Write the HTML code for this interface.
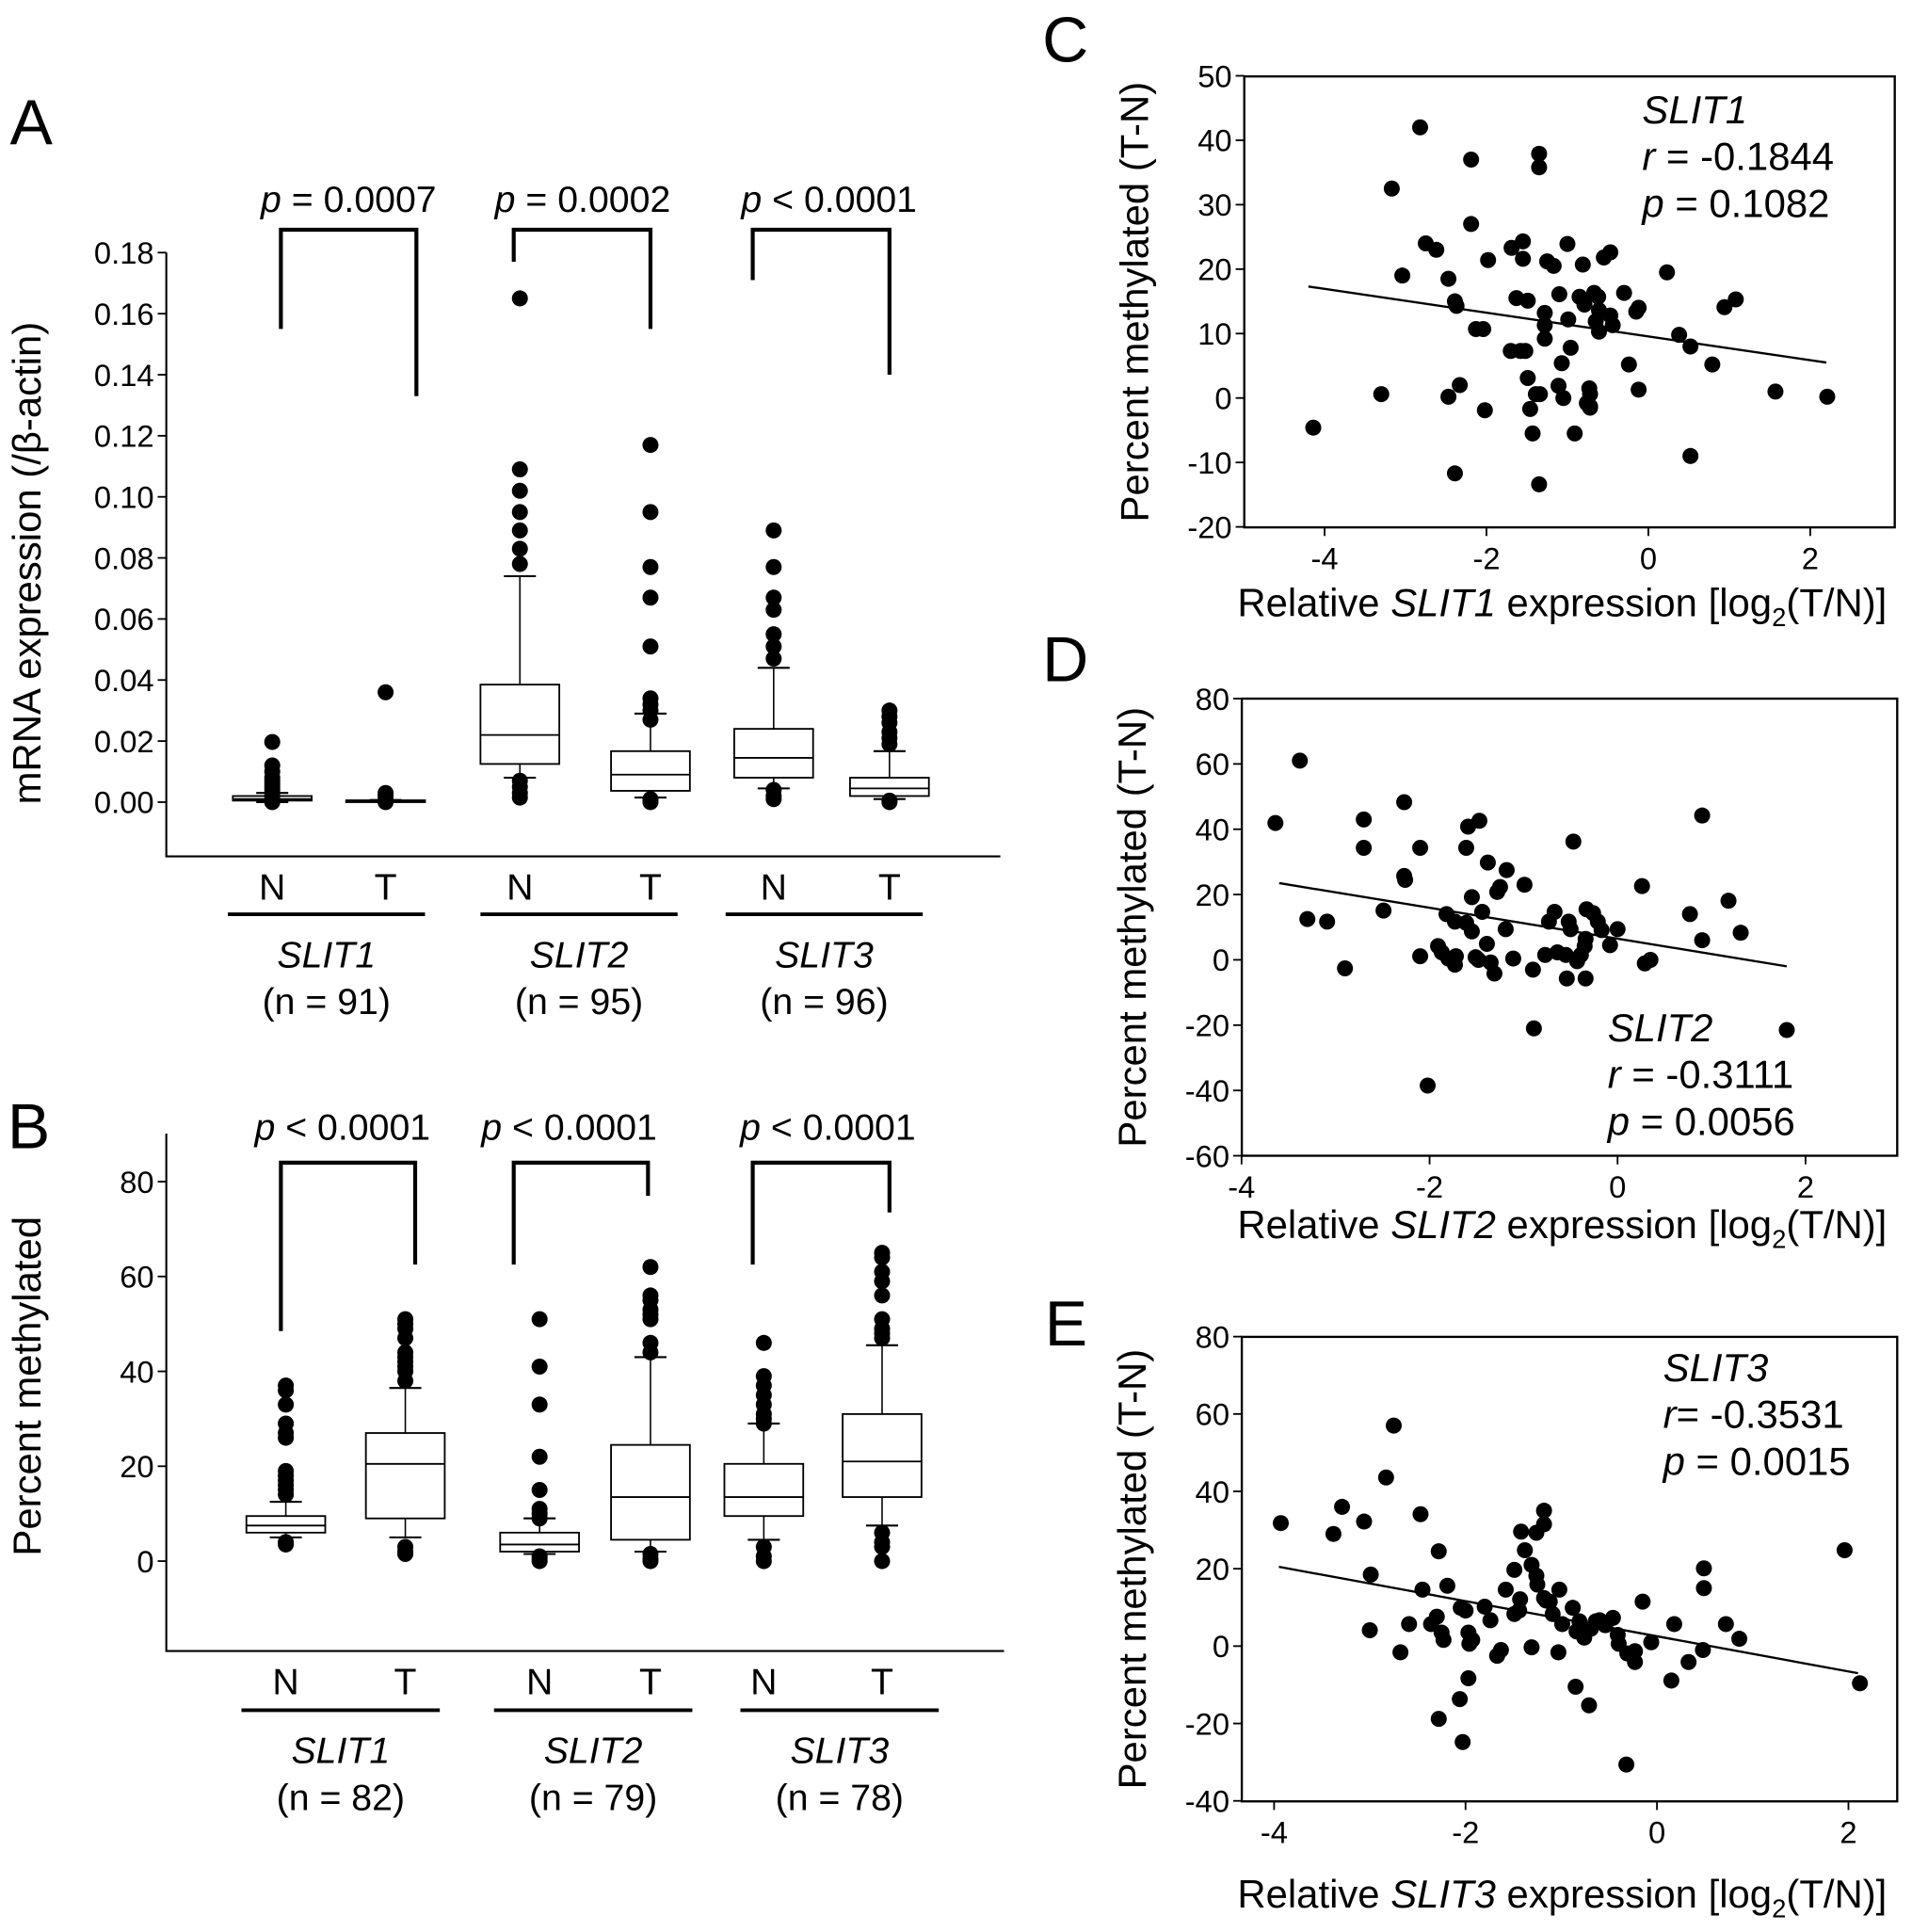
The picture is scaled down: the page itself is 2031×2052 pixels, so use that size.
<!DOCTYPE html>
<html><head><meta charset="utf-8">
<style>
html,body{margin:0;padding:0;background:#fff;}
svg{display:block;}
text{font-family:"Liberation Sans",Arial,sans-serif;fill:#000;}
.tk{font-size:25px;}
.lab{font-size:30px;}
.yl{font-size:32px;}
.it{font-style:italic;}
.big{font-size:52px;}
</style></head>
<body>
<svg id="fig" width="2031" height="2052" viewBox="0 0 1552 1568" xmlns="http://www.w3.org/2000/svg">
<g id="static">
<text class="big" x="8" y="117">A</text>
<text class="big" x="6" y="932">B</text>
<text class="big" x="846" y="50">C</text>
<text class="big" x="846" y="553">D</text>
<text class="big" x="848" y="1092">E</text>
</g>
</svg>
<script>
// ---------- Panel A data ----------
const aGroups = ['N','T','N','T','N','T'];
const aGenes = ['SLIT1','SLIT2','SLIT3'];
const aN = ['(n = 91)','(n = 95)','(n = 96)'];
const aPvals = ['= 0.0007','= 0.0002','< 0.0001'];
const aTicks = [0,0.02,0.04,0.06,0.08,0.10,0.12,0.14,0.16,0.18];
const aTickLabels = ['0.00','0.02','0.04','0.06','0.08','0.10','0.12','0.14','0.16','0.18'];
// [whiskerLow, q1, median, q3, whiskerHigh]
const aBoxes = [
 [0.0, 0.0005, 0.001, 0.002, 0.003],
 [0.0001, 0.0002, 0.0004, 0.0006, 0.0007],
 [0.008, 0.0125, 0.022, 0.0385, 0.074],
 [0.0015, 0.0037, 0.009, 0.0167, 0.029],
 [0.0045, 0.008, 0.0145, 0.024, 0.044],
 [0.001, 0.002, 0.0045, 0.008, 0.0167]
];
const aOutliers = [
 [0.0197,0.012,0.010,0.008,0.007,0.006,0.005,0.004,0.002,0.001,0],
 [0.036,0.003,0.002,0.001,0],
 [0.165,0.109,0.102,0.095,0.089,0.083,0.078,0.007,0.005,0.003,0.0015],
 [0.117,0.095,0.077,0.067,0.051,0.034,0.032,0.030,0.027,0.001,0.0005,0],
 [0.089,0.077,0.067,0.063,0.055,0.051,0.047,0.004,0.002,0.001],
 [0.030,0.028,0.026,0.023,0.021,0.019,0.0005,0]
];
const aBracketEnds = [[0.155,0.133],[0.177,0.155],[0.171,0.140]];
const aBracketTop = 0.1875;

// ---------- Panel B data ----------
const bGroups = ['N','T','N','T','N','T'];
const bGenes = ['SLIT1','SLIT2','SLIT3'];
const bN = ['(n = 82)','(n = 79)','(n = 78)'];
const bPvals = ['< 0.0001','< 0.0001','< 0.0001'];
const bTicks = [0,20,40,60,80];
const bTickLabels = ['0','20','40','60','80'];
const bBoxes = [
 [5, 6, 7.5, 9.5, 12.5],
 [5, 9, 20.5, 27, 36.5],
 [1.5, 2, 3.5, 6, 9],
 [2, 4.5, 13.5, 24.5, 43],
 [4.5, 9.5, 13.5, 20.5, 29],
 [7.5, 13.5, 21, 31, 45.5]
];
const bOutliers = [
 [37,36,33,29,27,26,19,18,17,16,15,14,4,3.5],
 [51,50,49,47,44,43,42,41,40,38,3,2,1.5],
 [51,41,33,22,15,11,10,9,1,0.5,0],
 [62,56,55,53,52,51,46,44,1.5,0.5,0],
 [46,39,37,35,33,31,30,29,3,1,0],
 [65,64,61,59,56,51,49,48,47,6,4,3,0]
];
const bBracketEnds = [[48.5,62.5],[62.5,77],[62.5,73.5]];
const bBracketTop = 84;

// ---------- Scatter C ----------
const cX = [-4.14,-2.82,-3.17,-3.04,-2.75,-2.62,-3.3,-2.19,-2.19,-2.47,-2.39,-2.37,-2.47,-2.33,-2.39,-2.13,-2.04,-2.02,-1.98,-1.69,-1.7,-1.58,-1.63,-1.55,-1.55,-1.49,-1.52,-1.49,-1.46,-1.43,-1.35,-1.35,-1.39,-1.35,-1.34,-1.28,-1.28,-1.28,-1.25,-1.17,-1.1,-1.07,-1.11,-1.05,-1.0,-0.99,-0.96,-0.91,-0.81,-0.85,-0.79,-0.76,-0.73,-0.72,-0.72,-0.72,-0.67,-0.62,-0.61,-0.65,-0.61,-0.55,-0.47,-0.47,-0.44,-0.3,-0.24,-0.15,-0.12,-0.12,0.23,0.38,0.52,0.52,0.79,0.94,1.08,1.57,2.21];
const cY = [-4.6,42,32.5,19,24,23,0.6,37,27,18.5,15,14.3,0.2,2,-11.7,10.7,10.7,-1.9,21.4,23.3,7.3,7.3,15.5,21.6,24.3,15.1,7.3,3.1,-1.7,-5.5,37.9,35.8,0.6,-13.4,0.6,13.2,11.3,9.2,21.2,20.5,16.1,5.4,1.9,0,23.9,12.2,7.8,-5.5,20.7,15.7,14.5,-0.8,1.5,0.6,-1.3,-1.5,16.3,15.7,13.6,11.9,10.3,21.8,22.6,12.8,11.3,16.3,5.2,13.4,14,1.3,19.5,9.8,8,-9,5.2,14.1,15.3,1,0.2];
const cFit = [[-4.2,17.3],[2.2,5.5]];
const cXTicks = [-4,-2,0,2];
const cYTicks = [-20,-10,0,10,20,30,40,50];
const cStats = ['SLIT1','r','= -0.1844','p','= 0.1082'];

// ---------- Scatter D ----------
const dX = [-3.64,-3.38,-3.3,-3.09,-2.9,-2.7,-2.7,-2.49,-2.27,-2.27,-2.26,-2.1,-2.1,-2.02,-1.91,-1.87,-1.82,-1.8,-1.72,-1.73,-1.73,-1.61,-1.59,-1.61,-1.55,-1.55,-1.48,-1.47,-1.51,-1.44,-1.39,-1.38,-1.35,-1.31,-1.28,-1.25,-1.18,-1.19,-1.11,-0.99,-0.9,-0.89,-0.77,-0.73,-0.67,-0.64,-0.55,-0.54,-0.52,-0.5,-0.47,-0.43,-0.39,-0.35,-0.34,-0.34,-0.33,-0.26,-0.21,-0.17,-0.08,0,0.26,0.29,0.35,0.77,0.9,0.9,1.18,1.31,1.8];
const dY = [41.9,61,12.5,11.7,-2.6,43,34.3,15.1,48.3,25.7,24.5,34.3,1.1,-38.5,4.2,2.3,14,0.4,1.1,11.7,-1.5,11.3,40.8,34.3,19.2,8.7,0,42.6,0.8,14.7,4.9,29.8,-0.8,-4.2,20.8,22.3,27.5,9.4,0.4,23,-3,-21,1.5,11.7,14.7,2.3,1.5,-5.7,11.7,9.4,36.2,-0.4,1.5,4.2,-5.7,6.4,15.5,14.3,11.7,9.1,4.5,9.4,22.6,-1.1,0,14,6,44.2,18.1,8.3,-21.5];
const dFit = [[-3.6,23.5],[1.8,-2]];
const dXTicks = [-4,-2,0,2];
const dYTicks = [-60,-40,-20,0,20,40,60,80];
const dStats = ['SLIT2','r','= -0.3111','p','= 0.0056'];

// ---------- Scatter E ----------
const eX = [-3.93,-3.38,-3.29,-3.06,-2.99,-3.0,-2.83,-2.75,-2.68,-2.59,-2.47,-2.45,-2.36,-2.3,-2.28,-2.28,-2.25,-2.23,-2.19,-2.06,-2.05,-2.03,-2.0,-1.97,-1.97,-1.96,-1.93,-1.8,-1.74,-1.67,-1.63,-1.58,-1.49,-1.44,-1.43,-1.49,-1.42,-1.38,-1.31,-1.26,-1.25,-1.26,-1.31,-1.18,-1.16,-1.12,-1.18,-1.18,-1.09,-1.03,-1.02,-0.99,-0.88,-0.84,-0.85,-0.81,-0.76,-0.71,-0.69,-0.64,-0.6,-0.54,-0.46,-0.41,-0.4,-0.32,-0.31,-0.23,-0.23,-0.15,-0.06,0.15,0.18,0.33,0.48,0.49,0.49,0.72,0.86,1.96,2.12];
const eY = [31.8,29,36,32.2,18.5,4.1,43.6,57,-1.6,5.7,34.1,14.6,5.7,7.6,24.5,-18.8,3.5,1.6,15.6,-13.7,9.9,-24.8,9.2,-8.3,3.5,0.6,1.6,10.2,6.7,-2.5,-1,14.6,8.3,9.2,12.1,19.7,29.6,24.8,21,18.2,15.9,29.3,-0.3,12.4,11.8,11.5,35,31.5,8.3,-1.6,14.6,5.7,9.9,3.8,-10.5,6.4,2.2,-15.3,4.5,6.4,6.7,5.4,7.3,2.9,0.6,-30.6,-1.9,-4.1,-1.3,11.5,1,-8.9,5.7,-4.1,-1,15,20.1,5.7,1.9,24.8,-9.6];
const eFit = [[-3.95,20.5],[2.1,-7]];
const eXTicks = [-4,-2,0,2];
const eYTicks = [-40,-20,0,20,40,60,80];
const eStats = ['SLIT3','r','= -0.3531','p','= 0.0015'];

const NS='http://www.w3.org/2000/svg';
const svg=document.getElementById('fig');
function mk(tag,attrs,parent){const e=document.createElementNS(NS,tag);for(const k in attrs)e.setAttribute(k,attrs[k]);(parent||svg).appendChild(e);return e;}
function txt(s,x,y,cls,anchor,parent){const t=mk('text',{x:x,y:y,class:cls,'text-anchor':anchor||'start'},parent);t.textContent=s;return t;}

function boxPanel(cfg){
 const g=mk('g',{});
 
 
 const y=v=>cfg.y0-(v-cfg.vmin)/(cfg.vmax-cfg.vmin)*(cfg.y0-cfg.y1);
 const ax=mk('path',{d:`M${cfg.ax},${cfg.top}V${cfg.bottom}H${cfg.right}`,stroke:'#000','stroke-width':1.6,fill:'none'},g);
 
 
 cfg.ticks.forEach((t,i)=>{
  mk('line',{x1:cfg.ax-7,x2:cfg.ax,y1:y(t),y2:y(t),stroke:'#000','stroke-width':1.4},g);
  const l=txt(cfg.tickLabels[i],cfg.ax-10,y(t)+9,'tk','end',g);
  
  
 });
 const yt=mk('text',{class:'yl','text-anchor':'middle',transform:`translate(${cfg.ytx},${cfg.yty}) rotate(-90)`},g);
 yt.textContent=cfg.ytitle;
 
 
 cfg.boxes.forEach((b,i)=>{
  const cx=cfg.centers[i],w=32;
  const bg=mk('g',{},g);
  
  
  mk('line',{x1:cx,x2:cx,y1:y(b[0]),y2:y(b[4]),stroke:'#000','stroke-width':1.2},bg);
  mk('line',{x1:cx-13,x2:cx+13,y1:y(b[0]),y2:y(b[0]),stroke:'#000','stroke-width':1.6},bg);
  mk('line',{x1:cx-13,x2:cx+13,y1:y(b[4]),y2:y(b[4]),stroke:'#000','stroke-width':1.6},bg);
  mk('rect',{x:cx-w,y:y(b[3]),width:2*w,height:Math.max(1.5,y(b[1])-y(b[3])),fill:'#fff',stroke:'#000','stroke-width':1.4},bg);
  mk('line',{x1:cx-w,x2:cx+w,y1:y(b[2]),y2:y(b[2]),stroke:'#000','stroke-width':1.4},bg);
  cfg.outliers[i].forEach(v=>{const c=mk('circle',{cx:cx,cy:y(v),r:6.5,fill:'#000'},bg);
   
   });
  const gl=txt(cfg.groups[i],cx,cfg.grpY,'lab','middle',g);
  
  
 });
 for(let k=0;k<3;k++){
  const xl=cfg.bx[k][0],xr=cfg.bx[k][1];
  const yt2=y(cfg.bTop);
  const br=mk('path',{d:`M${xl},${y(cfg.bEnds[k][0])}V${yt2}H${xr}V${y(cfg.bEnds[k][1])}`,stroke:'#000','stroke-width':3.2,fill:'none'},g);
  
  
  const pt=mk('text',{x:cfg.pX[k],y:cfg.pY,class:'lab','text-anchor':'middle'},g);
  const ts=mk('tspan',{'font-style':'italic'},pt);ts.textContent='p';
  const ts2=mk('tspan',{},pt);ts2.textContent=' '+cfg.pvals[k];
  
  
  const lx1=cfg.ul[k][0],lx2=cfg.ul[k][1];
  const ul=mk('line',{x1:lx1,x2:lx2,y1:cfg.ulY,y2:cfg.ulY,stroke:'#000','stroke-width':3},g);
  
  
  const gn=txt(cfg.genes[k],(lx1+lx2)/2,cfg.ulY+43,'lab it','middle',g);
  
  
  const nn=txt(cfg.ns[k],(lx1+lx2)/2,cfg.ulY+81,'lab','middle',g);
  
  
 }
}

boxPanel({name:'panel-a-boxplot',vmin:0,vmax:0.18,y0:651,y1:205,ax:135,top:205,bottom:695,right:812,
 ticks:aTicks,tickLabels:aTickLabels,ytitle:'mRNA expression (/β-actin)',ytx:33,yty:457,
 boxes:aBoxes,outliers:aOutliers,centers:[221,313,422,528,628,722],groups:aGroups,genes:aGenes,
 grpY:730,bTop:aBracketTop,bEnds:aBracketEnds,bx:[[228,338],[417,528],[611,722]],pX:[283,473,673],
 pvals:aPvals,pY:172,ulY:742,ul:[[185,345],[390,550],[589,749]],ns:aN});
boxPanel({name:'panel-b-boxplot',vmin:0,vmax:80,y0:1267,y1:959,ax:135,top:920,bottom:1340,right:815,
 ticks:bTicks,tickLabels:bTickLabels,ytitle:'Percent methylated',ytx:33,yty:1125,
 boxes:bBoxes,outliers:bOutliers,centers:[232,329,438,528,620,716],groups:bGroups,genes:bGenes,
 grpY:1375,bTop:bBracketTop,bEnds:bBracketEnds,bx:[[228,337],[417,526],[611,722]],pX:[278,462,672],
 pvals:bPvals,pY:925,ulY:1388,ul:[[196,357],[401,562],[601,762]],ns:bN});

function scatter(cfg){
 const g=mk('g',{});
 
 
 const sx=v=>cfg.px0+v*cfg.kx, sy=v=>cfg.py0-v*cfg.ky;
 const fr=mk('rect',{x:cfg.L,y:cfg.T,width:cfg.R-cfg.L,height:cfg.B-cfg.T,fill:'none',stroke:'#000','stroke-width':1.8},g);
 
 
 cfg.xt.forEach(t=>{mk('line',{x1:sx(t),x2:sx(t),y1:cfg.B,y2:cfg.B+7,stroke:'#000','stroke-width':1.4},g);
  const l=txt(t<0?'-'+(-t):String(t),sx(t),cfg.B+34,'tk','middle',g);
  
  });
 cfg.yt.forEach(t=>{mk('line',{x1:cfg.L-7,x2:cfg.L,y1:sy(t),y2:sy(t),stroke:'#000','stroke-width':1.4},g);
  const l=txt(String(t),cfg.L-10,sy(t)+9,'tk','end',g);
  
  });
 const yt=mk('text',{class:'yl','text-anchor':'middle',transform:`translate(${cfg.L-78},${(cfg.T+cfg.B)/2}) rotate(-90)`},g);
 yt.textContent='Percent methylated (T-N)';
 
 
 const xt=mk('text',{x:(cfg.L+cfg.R)/2-6,y:cfg.xtY,class:'yl','text-anchor':'middle'},g);
 const a=mk('tspan',{},xt);a.textContent='Relative ';
 const b=mk('tspan',{'font-style':'italic'},xt);b.textContent=cfg.stats[0];
 const c=mk('tspan',{},xt);c.textContent=' expression [log';
 const d=mk('tspan',{'font-size':'21','dy':'8'},xt);d.textContent='2';
 const e=mk('tspan',{'dy':'-8'},xt);e.textContent='(T/N)]';
 
 
 const fl=mk('line',{x1:sx(cfg.fit[0][0]),y1:sy(cfg.fit[0][1]),x2:sx(cfg.fit[1][0]),y2:sy(cfg.fit[1][1]),stroke:'#000','stroke-width':1.8},g);
 
 
 cfg.xs.forEach((v,i)=>{const p=mk('circle',{cx:sx(v),cy:sy(cfg.ys[i]),r:6.5,fill:'#000'},g);
  
  });
 const s=cfg.stats;
 const t1=txt(s[0],cfg.ax,cfg.ay,'yl it','start',g);
 
 
 const t2=mk('text',{x:cfg.ax,y:cfg.ay+38,class:'yl'},g);
 const r1=mk('tspan',{'font-style':'italic'},t2);r1.textContent=s[1];
 const r2=mk('tspan',{},t2);r2.textContent=(s[0]==='SLIT3'?'':' ')+s[2];
 
 
 const t3=mk('text',{x:cfg.ax,y:cfg.ay+76,class:'yl'},g);
 const p1=mk('tspan',{'font-style':'italic'},t3);p1.textContent=s[3];
 const p2=mk('tspan',{},t3);p2.textContent=' '+s[4];
 
 
}
scatter({name:'panel-c-scatter',L:1010,R:1538,T:62,B:428,px0:1338,kx:65.7,py0:323,ky:5.23,xt:cXTicks,yt:cYTicks,
 xs:cX,ys:cY,fit:cFit,stats:cStats,ax:1333,ay:100,xtY:500});
scatter({name:'panel-d-scatter',L:1008,R:1540,T:567,B:938,px0:1313,kx:76.3,py0:779,ky:2.65,xt:dXTicks,yt:dYTicks,
 xs:dX,ys:dY,fit:dFit,stats:dStats,ax:1305,ay:845,xtY:1005});
scatter({name:'panel-e-scatter',L:1008,R:1540,T:1085,B:1462,px0:1345,kx:77.7,py0:1336,ky:3.14,xt:eXTicks,yt:eYTicks,
 xs:eX,ys:eY,fit:eFit,stats:eStats,ax:1350,ay:1121,xtY:1548});
</script>
</body></html>
